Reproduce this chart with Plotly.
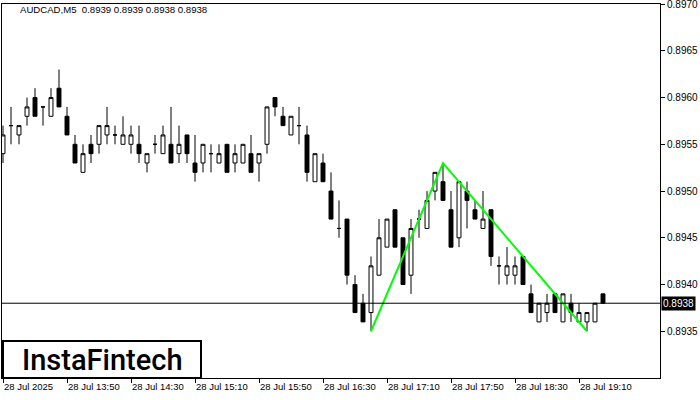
import plotly.graph_objects as go

# ---- data (AUDCAD M5, 28 Jul 2025, bars from 13:10 to 19:25) ----
opens = [0.8954,0.8957,0.8956,0.8958,0.8960,0.8959,0.8958,0.8961,0.8958,0.8955,
         0.8952,0.8955,0.8955,0.8956,0.8956,0.8955,0.8955,0.8955,0.8953,0.8955,
         0.8954,0.8955,0.8954,0.8956,0.8953,0.8953,0.8954,0.8953,0.8955,0.8953,
         0.8953,0.8954,0.8953,0.8955,0.8960,0.8958,0.8956,0.8957,0.8956,0.8951,
         0.8953,0.8950,0.8946,0.8947,0.8940,0.8938,0.8937,0.8941,0.8944,0.8948,
         0.8945,0.8941,0.8947,0.8946,0.8950,0.8951,0.8948,0.8945,0.8950,0.8948,
         0.8946,0.8948,0.8942,0.8941,0.8941,0.8943,0.8939,0.8936,0.8937,0.8939,
         0.8936,0.8938,0.8936,0.8936,0.8936,0.8939]
highs = [0.8957,0.8959,0.8957,0.8960,0.8961,0.8959,0.8961,0.8963,0.8959,0.8956,
         0.8955,0.8956,0.8957,0.8959,0.8957,0.8958,0.8957,0.8957,0.8954,0.8956,
         0.8957,0.8959,0.8957,0.8956,0.8956,0.8955,0.8955,0.8955,0.8955,0.8955,
         0.8955,0.8956,0.8954,0.8959,0.8960,0.8959,0.8958,0.8959,0.8957,0.8954,
         0.8954,0.8952,0.8949,0.8947,0.8941,0.8939,0.8943,0.8947,0.8947,0.8948,
         0.8945,0.8947,0.8948,0.8950,0.8952,0.8953,0.8950,0.8951,0.8951,0.8949,
         0.8950,0.8948,0.8943,0.8944,0.8943,0.8943,0.8940,0.8938,0.8939,0.8939,
         0.8939,0.8939,0.8938,0.8937,0.8938,0.8939]
lows = [0.8953,0.8955,0.8955,0.8957,0.8958,0.8957,0.8958,0.8959,0.8956,0.8953,
        0.8952,0.8953,0.8954,0.8955,0.8955,0.8955,0.8954,0.8953,0.8952,0.8954,
        0.8954,0.8953,0.8953,0.8953,0.8951,0.8952,0.8952,0.8953,0.8952,0.8952,
        0.8953,0.8952,0.8951,0.8954,0.8958,0.8957,0.8956,0.8955,0.8951,0.8951,
        0.8951,0.8947,0.8945,0.8940,0.8937,0.8936,0.8935,0.8941,0.8944,0.8944,
        0.8940,0.8939,0.8945,0.8946,0.8949,0.8949,0.8944,0.8944,0.8946,0.8947,
        0.8946,0.8942,0.8940,0.8940,0.8940,0.8940,0.8937,0.8936,0.8936,0.8937,
        0.8936,0.8936,0.8936,0.8935,0.8936,0.8938]
closes = [0.8956,0.8957,0.8957,0.8959,0.8958,0.8959,0.8960,0.8959,0.8956,0.8953,
          0.8954,0.8954,0.8957,0.8957,0.8956,0.8956,0.8956,0.8954,0.8954,0.8955,
          0.8956,0.8953,0.8955,0.8954,0.8952,0.8955,0.8954,0.8954,0.8952,0.8954,
          0.8955,0.8952,0.8954,0.8959,0.8959,0.8957,0.8958,0.8957,0.8952,0.8954,
          0.8951,0.8947,0.8946,0.8941,0.8937,0.8936,0.8942,0.8945,0.8947,0.8944,
          0.8940,0.8946,0.8947,0.8949,0.8952,0.8949,0.8944,0.8951,0.8949,0.8947,
          0.8947,0.8943,0.8942,0.8942,0.8942,0.8940,0.8937,0.8938,0.8938,0.8937,
          0.8939,0.8937,0.8937,0.8937,0.8938,0.8938]

bar_index = list(range(len(opens)))
tick_bars = [0, 8, 16, 24, 32, 40, 48, 56, 64, 72]
tick_labels = ["28 Jul 2025", "28 Jul 13:50", "28 Jul 14:30", "28 Jul 15:10",
               "28 Jul 15:50", "28 Jul 16:30", "28 Jul 17:10", "28 Jul 17:50",
               "28 Jul 18:30", "28 Jul 19:10"]
price_ticks = [0.8935, 0.8940, 0.8945, 0.8950, 0.8955, 0.8960, 0.8965, 0.8970]
current_price = 0.8938
pattern_bars = [46, 55, 73]          # low, high, low of the pattern
header = "AUDCAD,M5  0.8939 0.8939 0.8938 0.8938"
logo = "InstaFintech"

FONT = "Liberation Sans"

fig = go.Figure()
fig.add_trace(go.Candlestick(
    x=bar_index, open=opens, high=highs, low=lows, close=closes,
    increasing=dict(line=dict(color="black", width=1), fillcolor="white"),
    decreasing=dict(line=dict(color="black", width=1), fillcolor="black"),
    whiskerwidth=0, showlegend=False, hoverinfo="skip"))

pat_y = [lows[pattern_bars[0]], highs[pattern_bars[1]], lows[pattern_bars[2]]]
fig.add_trace(go.Scatter(x=pattern_bars, y=pat_y, mode="lines",
                         line=dict(color="#00FF00", width=2),
                         showlegend=False, hoverinfo="skip"))

W, H = 700, 400
ml, mr, mt, mb = 2, 40, 4, 22
pw = W - ml - mr
ph = H - mt - mb

def px(xp):
    return (xp - ml) / pw

def py(yp):
    return (H - mb - yp) / ph

fig.add_hline(y=current_price, line=dict(color="black", width=1))

fig.update_layout(
    width=W, height=H,
    margin=dict(l=ml, r=mr, t=mt, b=mb, autoexpand=False),
    paper_bgcolor="white", plot_bgcolor="white",
    font=dict(family=FONT, size=10, color="black"),
    boxgap=0.3,
    xaxis=dict(range=[-0.125, 82.125], rangeslider=dict(visible=False),
               tickvals=tick_bars, ticktext=tick_labels,
               ticks="outside", ticklen=4, tickcolor="black",
               ticklabelposition="outside right", automargin=False,
               ticklabeloverflow="allow",
               showline=True, linecolor="black", linewidth=1, mirror=True,
               showgrid=False, zeroline=False,
               tickfont=dict(family=FONT, size=9.5)),
    yaxis=dict(range=[0.8930, 0.897001], side="right",
               tickvals=price_ticks, tickformat=".4f", automargin=False,
               ticklabeloverflow="allow",
               ticks="outside", ticklen=4, tickcolor="black",
               showline=True, linecolor="black", linewidth=1, mirror=True,
               showgrid=False, zeroline=False,
               tickfont=dict(family=FONT, size=10)),
)

# current price label
fig.add_annotation(xref="paper", yref="y", x=1.0, y=current_price,
                   xanchor="left", yanchor="middle", xshift=1,
                   text=f"{current_price:.4f}", showarrow=False,
                   bgcolor="black", font=dict(color="white", size=10, family=FONT),
                   borderpad=1)

# header
fig.add_annotation(xref="paper", yref="paper", x=px(18), y=py(10),
                   xanchor="left", yanchor="middle", text=header,
                   showarrow=False, font=dict(size=9.6, family=FONT))

# logo box
fig.add_shape(type="rect", xref="paper", yref="paper",
              x0=px(3), x1=px(201), y0=py(378), y1=py(341),
              fillcolor="white", line=dict(color="black", width=2), layer="above")
fig.add_annotation(xref="paper", yref="paper", x=px(102), y=py(360),
                   xanchor="center", yanchor="middle", text=logo,
                   showarrow=False,
                   font=dict(size=29, family="Roboto", color="black", weight=500))

fig.write_html("out.html", config={"displayModeBar": False},
               post_script="document.body.style.margin='0';document.body.style.overflow='hidden';")
